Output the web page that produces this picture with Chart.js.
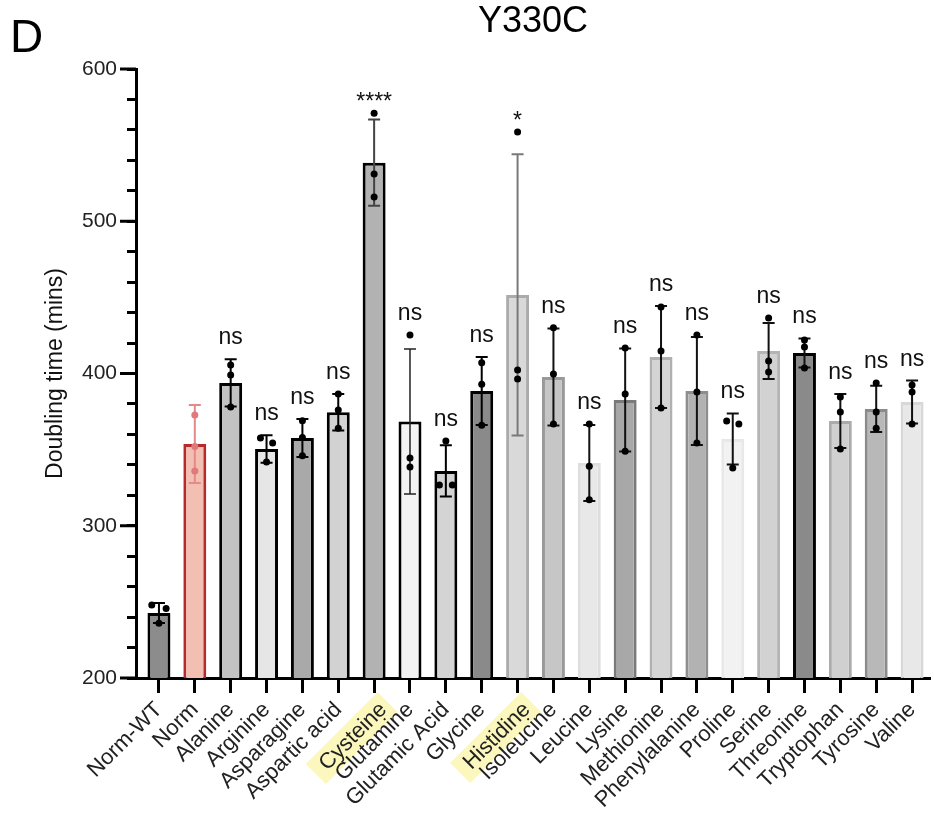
<!DOCTYPE html>
<html><head><meta charset="utf-8">
<script src="https://cdn.jsdelivr.net/npm/chart.js@4/dist/chart.umd.min.js"></script>
<style>html,body{margin:0;background:#fff}#wrap{width:934px;height:814px;position:relative}</style>
</head><body><div id="wrap"><canvas id="grafico"></canvas></div>
<script>
const FONT='"Liberation Sans", Arial, Helvetica, sans-serif';
const names=['Norm-WT','Norm','Alanine','Arginine','Asparagine','Aspartic acid','Cysteine','Glutamine','Glutamic Acid','Glycine','Histidine','Isoleucine','Leucine','Lysine','Methionine','Phenylalanine','Proline','Serine','Threonine','Tryptophan','Tyrosine','Valine'];
const means=[242.7,353.7,393.8,350.4,357.6,374.5,538.5,368.5,336,388.5,451.6,397.7,341.2,382.6,410.8,388.5,357,414.8,413.5,368.8,376.7,381.3];
const sds=[6.5,25.6,15.5,9,12.5,12,28.3,47.6,16.8,22.4,92.4,31.9,24.9,33.9,33.5,35.5,16.8,18.4,9.5,17.8,15.2,14.1];
const reps=[[248,245.6,236],[372.7,336,352],[405.6,399,378],[357.6,354.4,341.9],[369,358,346],[386.5,376,364],[571,531,516],[425.3,344.5,338.6],[355.7,326.8,326.8],[407,393,366],[558.6,402.3,396.4],[430,399.7,366.8],[366.8,339,317],[416.7,386.5,349],[443.7,414.8,377.3],[425.3,387.8,354.3],[368.8,366.8,338],[436.5,408.2,401],[422,417.4,403.6],[384.6,374.7,350.4],[393.8,374.7,364],[392.4,387.8,366.8]];
const jitter=[[-0.2,0.2,0],[0,0,0],[0,0,0],[-0.17,0.17,0],[0,0,0],[0,0,0],[0,0,0],[0,0,0],[0,-0.18,0.18],[0,0,0],[0,0,0],[0,0,0],[0,0,0],[0,0,0],[0,0,0],[0,0,0],[-0.17,0.17,0],[0,0,0],[0,0,0],[0,0,0],[0,0,0],[0,0,0]];
const sig=['','','ns','ns','ns','ns','****','ns','ns','ns','*','ns','ns','ns','ns','ns','ns','ns','ns','ns','ns','ns'];
const highlighted=['Cysteine','Histidine'];
const yMajor=[200,300,400,500,600];

const fills=['#8c8c8c','#f2bfb2','#c2c2c2','#e6e6e6','#a9a9a9','#d2d2d2','#b2b2b2','#f3f3f3','#d4d4d4','#8a8a8a','#d9d9d9','#c6c6c6','#e8e8e8','#a8a8a8','#d4d4d4','#b2b2b2','#f2f2f2','#d2d2d2','#8a8a8a','#d0d0d0','#b8b8b8','#e8e8e8'];
const borders=['#000','#b52a2a','#000','#000','#000','#000','#000','#000','#000','#000','#ababab','#999','#dedede','#7a7a7a','#b0b0b0','#8e8e8e','#e8e8e8','#b4b4b4','#000','#ababab','#8a8a8a','#d8d8d8'];
const errColors=['#000','#e48a8a','#000','#000','#000','#000','#444','#222','#000','#000','#7a7a7a','#111','#111','#111','#111','#111','#111','#111','#111','#111','#111','#111'];

const pts=[];
reps.forEach((r,i)=>r.forEach((v,k)=>pts.push({x:i+jitter[i][k],y:v,c:i})));

const extras={id:'extras',
  afterDatasetDraw(ch,args){
    if(args.index!==1) return;
    const {ctx,scales:{x,y}}=ch;
    ctx.save();
    names.forEach((n,i)=>{
      const px=x.getPixelForValue(i),hi=y.getPixelForValue(means[i]+sds[i]),lo=y.getPixelForValue(means[i]-sds[i]);
      ctx.strokeStyle=errColors[i];ctx.lineWidth=i===7?1.5:2;
      ctx.beginPath();ctx.moveTo(px,hi);ctx.lineTo(px,lo);
      ctx.moveTo(px-6,hi);ctx.lineTo(px+6,hi);ctx.moveTo(px-6,lo);ctx.lineTo(px+6,lo);ctx.stroke();
    });
    ctx.restore();
  },
  afterDraw(ch){
    const {ctx,chartArea:a,scales:{x,y}}=ch;
    ctx.save();
    ctx.fillStyle='#111';ctx.textAlign='center';ctx.font='23px '+FONT;
    names.forEach((n,i)=>{
      if(!sig[i]) return;
      const top=Math.min(y.getPixelForValue(means[i]+sds[i]),...reps[i].map(v=>y.getPixelForValue(v)));
      ctx.fillText(sig[i],x.getPixelForValue(i),top-(sig[i]==='ns'?15:4));
    });
    ctx.strokeStyle='#000';ctx.lineWidth=3;
    yMajor.forEach(v=>{const py=y.getPixelForValue(v);ctx.beginPath();ctx.moveTo(a.left-16,py);ctx.lineTo(a.left,py);ctx.stroke();});
    ctx.textAlign='left';ctx.font='46px '+FONT;ctx.fillStyle='#000';
    ctx.fillText('D',10,52);
    ctx.restore();
  }
};

new Chart(document.getElementById('grafico'),{
  type:'bar',
  data:{datasets:[
    {type:'scatter',data:pts,order:1,pointRadius:3.5,pointBorderWidth:0,
      backgroundColor:c=>c.raw&&c.raw.c===1?'#e07a7a':'#000'},
    {type:'bar',data:means.map((m,i)=>({x:i,y:m})),order:2,backgroundColor:fills,borderColor:borders,borderWidth:3,
      borderSkipped:false,barPercentage:0.64,categoryPercentage:1}
  ]},
  options:{
    responsive:true,maintainAspectRatio:false,animation:false,
    layout:{padding:{top:0,right:0,bottom:0,left:0}},
    plugins:{legend:{display:false},tooltip:{enabled:false},
      title:{display:true,text:'Y330C',fullSize:false,color:'#000',font:{family:FONT,size:36,weight:'normal'},padding:{top:0,bottom:25.8}}},
    scales:{
      x:{type:'linear',min:-0.64,max:21.5,offset:false,
        afterBuildTicks:s=>{s.ticks=names.map((n,i)=>({value:i}));},
        afterFit:s=>{s.height=136;s.paddingRight=0;s.paddingLeft=0;},
        grid:{offset:false,drawOnChartArea:false,tickLength:15,tickWidth:3,tickColor:'#000'},
        border:{display:true,width:3,color:'#000'},
        ticks:{autoSkip:false,maxRotation:45,minRotation:45,padding:4,color:'#222',font:{family:FONT,size:22},
          callback:v=>names[v],
          showLabelBackdrop:c=>highlighted.includes(names[c.index]),backdropColor:'#fbf7bd',
          backdropPadding:{top:1,bottom:1,left:10,right:6}}},
      y:{min:200,max:600,
        afterBuildTicks:s=>{const t=[];for(let v=200;v<=600;v+=20)t.push({value:v});s.ticks=t;},
        afterFit:s=>{s.width=136;},
        grid:{drawOnChartArea:false,tickLength:9,tickWidth:3,tickColor:'#000'},
        border:{display:true,width:3,color:'#000'},
        title:{display:true,text:'Doubling time (mins)',color:'#111',font:{family:FONT,size:23},padding:{top:42}},
        ticks:{autoSkip:false,padding:10,color:'#222',font:{family:FONT,size:21},callback:v=>yMajor.includes(v)?v:''}}
    }
  },
  plugins:[extras]
});
</script>
</body></html>
